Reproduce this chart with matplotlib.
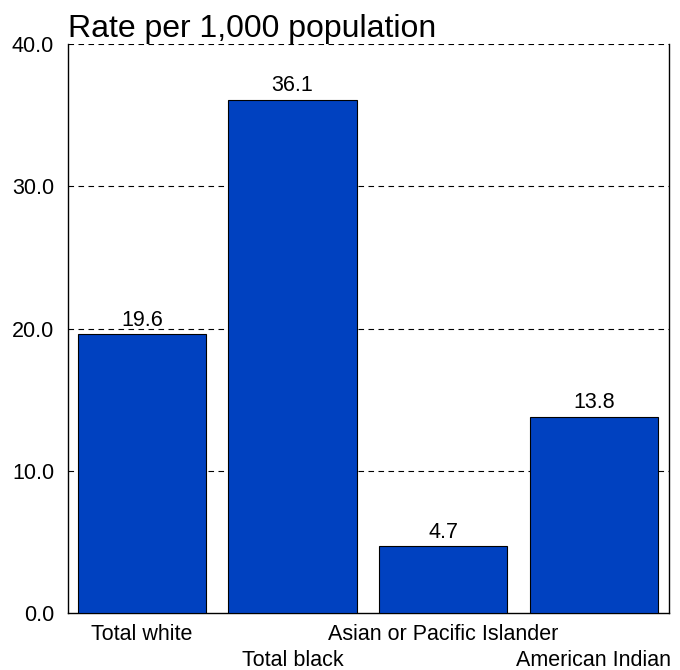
import matplotlib.pyplot as plt

plt.rcParams['font.family'] = ['Liberation Sans', 'DejaVu Sans']

categories = ['Total white', 'Total black', 'Asian or Pacific Islander', 'American Indian']
rates = [19.6, 36.1, 4.7, 13.8]
yticks = [0, 10, 20, 30, 40]

fig = plt.figure(figsize=(6.8, 6.7), dpi=100)
ax = fig.add_axes([0.1, 0.085, 0.884, 0.849])

x = list(range(len(categories)))
bars = ax.bar(x, rates, width=0.85, color='#0041C0', edgecolor='black', linewidth=0.8, zorder=3)

# value labels above bars
for xi, v in zip(x, rates):
    ax.text(xi, v + 0.25, f'{v:.1f}', ha='center', va='bottom', fontsize=15.5, zorder=4)

ax.set_xlim(-0.49, 3.5)
ax.set_ylim(0, 40)
ax.set_yticks(yticks)
ax.set_yticklabels([f'{t:.1f}' for t in yticks], fontsize=15.5)
ax.tick_params(axis='y', length=0, pad=10)
ax.set_xticks([])

for t in yticks[1:]:
    ax.axhline(t, color='black', linestyle=(0, (5, 4)), linewidth=0.8, zorder=1)

# staggered category labels
for xi, name in zip(x, categories):
    y_off = -0.038 if xi % 2 == 0 else -0.084
    ax.text(xi, y_off, name, ha='center', va='center', fontsize=15.5,
            transform=ax.get_xaxis_transform())

ax.spines['top'].set_visible(False)
for s in ['left', 'right', 'bottom']:
    ax.spines[s].set_linewidth(1)

ax.set_title('Rate per 1,000 population', loc='left', fontsize=23, pad=5)

fig.savefig('out.png', dpi=100)
